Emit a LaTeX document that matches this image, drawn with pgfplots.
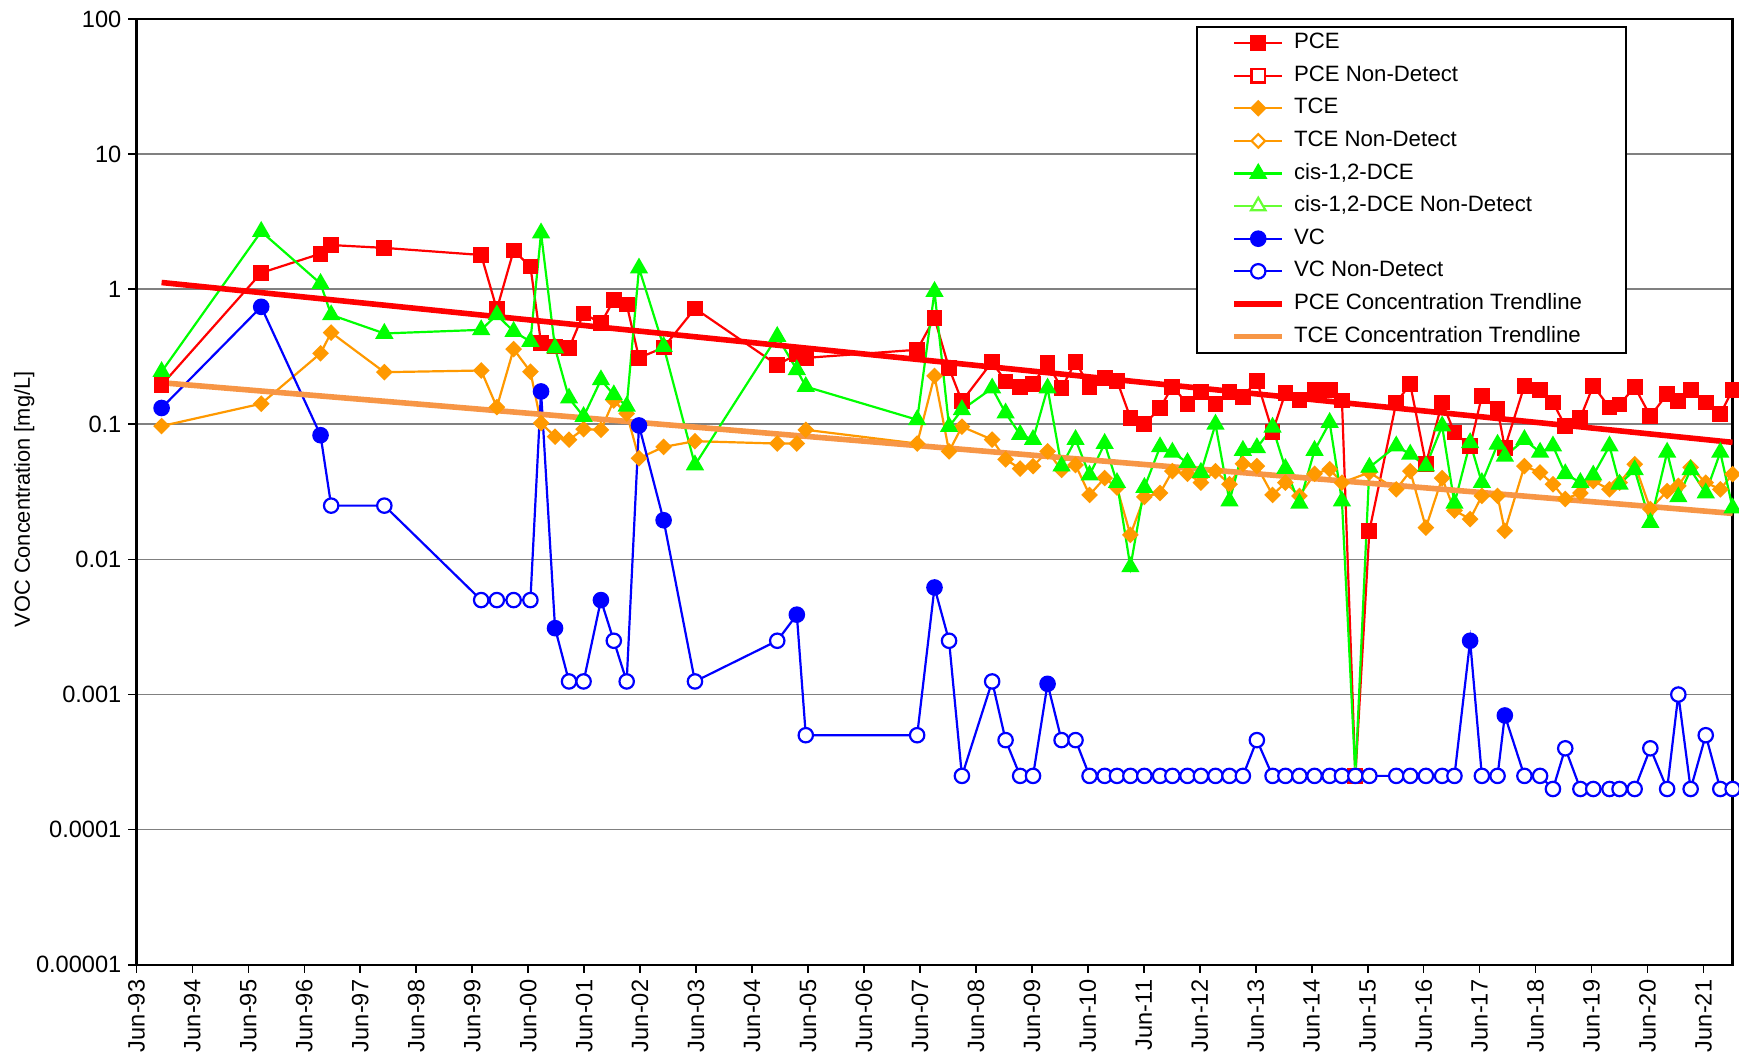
\documentclass[border=0pt]{standalone}
\usepackage{fontspec}
\setmainfont{Liberation Sans}
\usepackage{pgfplots}
\usepackage{pgfplotstable}
\pgfplotsset{compat=1.18}
\definecolor{pcered}{RGB}{255,0,0}
\definecolor{tceorange}{RGB}{255,153,0}
\definecolor{dcegreen}{RGB}{0,255,0}
\definecolor{dcend}{RGB}{102,255,51}
\definecolor{vcblue}{RGB}{0,0,255}
\definecolor{trendorange}{RGB}{247,150,70}
\definecolor{gridgray}{RGB}{128,128,128}

\pgfplotstableread{
t v c
0.45 0.195 d
2.23 1.32 d
3.29 1.83 d
3.48 2.12 d
4.43 2.02 d
6.16 1.79 d
6.44 0.71 d
6.74 1.93 d
7.04 1.47 d
7.23 0.40 d
7.48 0.376 d
7.73 0.366 d
7.99 0.66 d
8.30 0.56 d
8.53 0.83 d
8.76 0.77 d
8.98 0.31 d
9.42 0.37 d
9.98 0.72 d
11.45 0.275 d
11.80 0.33 d
11.96 0.31 d
13.95 0.356 d
14.26 0.61 d
14.52 0.26 d
14.75 0.148 d
15.29 0.29 d
15.53 0.207 d
15.79 0.19 d
16.02 0.20 d
16.28 0.283 d
16.53 0.185 d
16.78 0.29 d
17.03 0.19 d
17.30 0.22 d
17.52 0.21 d
17.76 0.112 d
18.01 0.10 d
18.29 0.132 d
18.51 0.19 d
18.78 0.142 d
19.02 0.173 d
19.28 0.142 d
19.53 0.173 d
19.77 0.16 d
20.02 0.21 d
20.30 0.088 d
20.53 0.171 d
20.78 0.151 d
21.05 0.18 d
21.32 0.18 d
21.54 0.15 d
21.78 0.00025 n
22.03 0.0163 d
22.51 0.145 d
22.76 0.198 d
23.04 0.051 d
23.33 0.145 d
23.55 0.087 d
23.83 0.069 d
24.04 0.162 d
24.32 0.129 d
24.45 0.067 d
24.80 0.193 d
25.08 0.18 d
25.31 0.145 d
25.53 0.097 d
25.80 0.112 d
26.03 0.193 d
26.32 0.133 d
26.50 0.14 d
26.77 0.189 d
27.05 0.115 d
27.35 0.167 d
27.55 0.149 d
27.77 0.18 d
28.04 0.145 d
28.30 0.119 d
28.52 0.18 d
}\pce

\pgfplotstableread{
t v c
0.45 0.097 d
2.23 0.142 d
3.29 0.335 d
3.48 0.477 d
4.43 0.243 d
6.16 0.25 d
6.44 0.134 d
6.74 0.36 d
7.04 0.245 d
7.23 0.102 d
7.48 0.081 d
7.73 0.077 d
7.99 0.092 d
8.30 0.091 d
8.53 0.15 d
8.76 0.12 d
8.98 0.056 d
9.42 0.068 d
9.98 0.075 d
11.45 0.072 d
11.80 0.072 d
11.96 0.091 d
13.95 0.072 d
14.26 0.228 d
14.52 0.063 d
14.75 0.096 d
15.29 0.077 d
15.53 0.055 d
15.79 0.047 d
16.02 0.049 d
16.28 0.063 d
16.53 0.046 d
16.78 0.05 d
17.03 0.030 d
17.30 0.040 d
17.52 0.034 d
17.76 0.0152 d
18.01 0.029 d
18.29 0.031 d
18.51 0.045 d
18.78 0.043 d
19.02 0.037 d
19.28 0.045 d
19.53 0.036 d
19.77 0.051 d
20.02 0.049 d
20.30 0.030 d
20.53 0.037 d
20.78 0.0295 d
21.05 0.043 d
21.32 0.0465 d
21.54 0.037 d
22.03 0.044 d
22.51 0.033 d
22.76 0.045 d
23.04 0.0172 d
23.33 0.040 d
23.55 0.023 d
23.83 0.0199 d
24.04 0.0295 d
24.32 0.0295 d
24.45 0.0163 d
24.80 0.049 d
25.08 0.044 d
25.31 0.036 d
25.53 0.028 d
25.80 0.031 d
26.03 0.038 d
26.32 0.033 d
26.50 0.037 d
26.77 0.0506 d
27.05 0.0236 d
27.35 0.032 d
27.55 0.035 d
27.77 0.048 d
28.04 0.037 d
28.30 0.033 d
28.52 0.0428 d
}\tce

\pgfplotstableread{
t v c
0.45 0.245 d
2.23 2.67 d
3.29 1.1 d
3.48 0.645 d
4.43 0.47 d
6.16 0.50 d
6.44 0.645 d
6.74 0.486 d
7.04 0.41 d
7.23 2.6 d
7.48 0.366 d
7.73 0.156 d
7.99 0.114 d
8.30 0.213 d
8.53 0.165 d
8.76 0.136 d
8.98 1.43 d
9.42 0.376 d
9.98 0.05 d
11.45 0.446 d
11.80 0.253 d
11.96 0.19 d
13.95 0.108 d
14.26 0.96 d
14.52 0.096 d
14.75 0.128 d
15.29 0.185 d
15.53 0.121 d
15.79 0.084 d
16.02 0.077 d
16.28 0.185 d
16.53 0.049 d
16.78 0.077 d
17.03 0.042 d
17.30 0.072 d
17.52 0.037 d
17.76 0.0088 d
18.01 0.034 d
18.29 0.068 d
18.51 0.062 d
18.78 0.052 d
19.02 0.044 d
19.28 0.10 d
19.53 0.027 d
19.77 0.064 d
20.02 0.067 d
20.30 0.095 d
20.53 0.047 d
20.78 0.026 d
21.05 0.064 d
21.32 0.103 d
21.54 0.027 d
21.78 0.00025 n
22.03 0.048 d
22.51 0.069 d
22.76 0.06 d
23.04 0.049 d
23.33 0.097 d
23.55 0.026 d
23.83 0.073 d
24.04 0.037 d
24.32 0.071 d
24.45 0.058 d
24.80 0.077 d
25.08 0.062 d
25.31 0.069 d
25.53 0.043 d
25.80 0.037 d
26.03 0.042 d
26.32 0.069 d
26.50 0.036 d
26.77 0.046 d
27.05 0.0187 d
27.35 0.062 d
27.55 0.029 d
27.77 0.046 d
28.04 0.031 d
28.30 0.062 d
28.52 0.024 d
}\dce

\pgfplotstableread{
t v c
0.45 0.132 d
2.23 0.74 d
3.29 0.083 d
3.48 0.025 n
4.43 0.025 n
6.16 0.005 n
6.44 0.005 n
6.74 0.005 n
7.04 0.005 n
7.23 0.175 d
7.48 0.0031 d
7.73 0.00125 n
7.99 0.00125 n
8.30 0.005 d
8.53 0.0025 n
8.76 0.00125 n
8.98 0.098 d
9.42 0.0195 d
9.98 0.00125 n
11.45 0.0025 n
11.80 0.0039 d
11.96 0.0005 n
13.95 0.0005 n
14.26 0.0062 d
14.52 0.0025 n
14.75 0.00025 n
15.29 0.00125 n
15.53 0.00046 n
15.79 0.00025 n
16.02 0.00025 n
16.28 0.0012 d
16.53 0.00046 n
16.78 0.00046 n
17.03 0.00025 n
17.30 0.00025 n
17.52 0.00025 n
17.76 0.00025 n
18.01 0.00025 n
18.29 0.00025 n
18.51 0.00025 n
18.78 0.00025 n
19.02 0.00025 n
19.28 0.00025 n
19.53 0.00025 n
19.77 0.00025 n
20.02 0.00046 n
20.30 0.00025 n
20.53 0.00025 n
20.78 0.00025 n
21.05 0.00025 n
21.32 0.00025 n
21.54 0.00025 n
21.78 0.00025 n
22.03 0.00025 n
22.51 0.00025 n
22.76 0.00025 n
23.04 0.00025 n
23.33 0.00025 n
23.55 0.00025 n
23.83 0.0025 d
24.04 0.00025 n
24.32 0.00025 n
24.45 0.0007 d
24.80 0.00025 n
25.08 0.00025 n
25.31 0.0002 n
25.53 0.0004 n
25.80 0.0002 n
26.03 0.0002 n
26.32 0.0002 n
26.50 0.0002 n
26.77 0.0002 n
27.05 0.0004 n
27.35 0.0002 n
27.55 0.001 n
27.77 0.0002 n
28.04 0.0005 n
28.30 0.0002 n
28.52 0.0002 n
}\vc

\begin{document}
\begin{tikzpicture}
\begin{axis}[
  scale only axis, width=798.1pt, height=472.95pt,
  ymode=log, xmin=0, xmax=28.52, ymin=1e-5, ymax=100,
  axis line style={black, line width=1.2pt},
  tick align=outside, major tick length=4pt,
  tick style={black, line width=0.8pt},
  xtick pos=bottom, ytick pos=left,
  yminorticks=false,
  ymajorgrids, major grid style={gridgray, line width=0.8pt},
  /pgf/number format/assume math mode=true,
  ticklabel style={font=\fontsize{11.8}{13}\selectfont},
  xtick={0,1,...,28},
  xticklabels={Jun-93,Jun-94,Jun-95,Jun-96,Jun-97,Jun-98,Jun-99,Jun-00,Jun-01,Jun-02,Jun-03,Jun-04,Jun-05,Jun-06,Jun-07,Jun-08,Jun-09,Jun-10,Jun-11,Jun-12,Jun-13,Jun-14,Jun-15,Jun-16,Jun-17,Jun-18,Jun-19,Jun-20,Jun-21},
  xticklabel style={rotate=90, anchor=east},
  ytick={1e-5,1e-4,1e-3,1e-2,1e-1,1,10,100},
  yticklabels={0.00001,0.0001,0.001,0.01,0.1,1,10,100},
  ylabel={VOC Concentration [mg/L]},
  every axis y label/.style={at={(axis description cs:-0.0702,0.492)}, rotate=90, anchor=center, font=\fontsize{10.9}{12}\selectfont},
  legend image code/.code={\draw[mark repeat=2,mark phase=2,#1] plot coordinates {(0pt,0pt)(11.9pt,0pt)(23.8pt,0pt)};},
  legend cell align=left,
  legend style={at={(0.6636,0.9929)}, anchor=north west, draw=black, line width=1pt, fill=white,
    font=\fontsize{11.1}{12}\selectfont, inner xsep=17.5pt, inner ysep=3pt, row sep=5.8pt,
    nodes={inner ysep=0pt, inner xsep=4.6pt, text height=8pt, text depth=2.5pt}},
]
\coordinate (sw) at (rel axis cs:0,0);
\coordinate (ne) at (rel axis cs:1,1);

\addplot[pcered, line width=1.1pt, mark size=3.4pt, forget plot, scatter, scatter src=explicit symbolic,
  scatter/classes={d={mark=square*, draw=pcered, fill=pcered}, n={mark=square*, draw=pcered, fill=white}}]
  table[x=t, y=v, meta=c] {\pce};
\addplot[tceorange, line width=1.1pt, mark size=2.4pt, forget plot, scatter, scatter src=explicit symbolic,
  scatter/classes={d={mark=square*, rotate=45, draw=tceorange, fill=tceorange}, n={mark=square*, rotate=45, draw=tceorange, fill=white}}]
  table[x=t, y=v, meta=c] {\tce};
\addplot[dcegreen, line width=1.1pt, mark size=4.2pt, forget plot, scatter, scatter src=explicit symbolic,
  scatter/classes={d={mark=triangle*, draw=dcegreen, fill=dcegreen}, n={mark=triangle*, draw=dcend, fill=white}}]
  table[x=t, y=v, meta=c] {\dce};
\addplot[vcblue, line width=1.1pt, mark size=3.6pt, forget plot, scatter, scatter src=explicit symbolic,
  scatter/classes={d={mark=*, draw=vcblue, fill=vcblue}, n={mark=*, draw=vcblue, fill=white}}]
  table[x=t, y=v, meta=c] {\vc};
\addplot[pcered, line width=2.8pt, forget plot] coordinates {(0.45,1.12) (28.52,0.0735)};
\addplot[trendorange, line width=2.8pt, forget plot] coordinates {(0.45,0.203) (28.52,0.0219)};

\addlegendimage{pcered, line width=1.1pt, mark=square*, mark size=3.4pt, mark options={fill=pcered}}
\addlegendentry{PCE}
\addlegendimage{pcered, line width=1.1pt, mark=square*, mark size=3.4pt, mark options={fill=white}}
\addlegendentry{PCE Non-Detect}
\addlegendimage{tceorange, line width=1.1pt, mark=square*, mark size=2.4pt, mark options={rotate=45, fill=tceorange}}
\addlegendentry{TCE}
\addlegendimage{tceorange, line width=1.1pt, mark=square*, mark size=2.4pt, mark options={rotate=45, fill=white}}
\addlegendentry{TCE Non-Detect}
\addlegendimage{dcegreen, line width=1.1pt, mark=triangle*, mark size=4.2pt, mark options={fill=dcegreen}}
\addlegendentry{cis-1,2-DCE}
\addlegendimage{dcend, line width=1.1pt, mark=triangle*, mark size=4.2pt, mark options={fill=white}}
\addlegendentry{cis-1,2-DCE Non-Detect}
\addlegendimage{vcblue, line width=1.1pt, mark=*, mark size=3.6pt, mark options={fill=vcblue}}
\addlegendentry{VC}
\addlegendimage{vcblue, line width=1.1pt, mark=*, mark size=3.6pt, mark options={fill=white}}
\addlegendentry{VC Non-Detect}
\addlegendimage{pcered, line width=2.8pt}
\addlegendentry{PCE Concentration Trendline}
\addlegendimage{trendorange, line width=2.8pt}
\addlegendentry{TCE Concentration Trendline}
\end{axis}
\pgfresetboundingbox
\path ([shift={(-68.2pt,-43.6pt)}]sw) rectangle ([shift={(3.2pt,9.45pt)}]ne);
\end{tikzpicture}
\end{document}
